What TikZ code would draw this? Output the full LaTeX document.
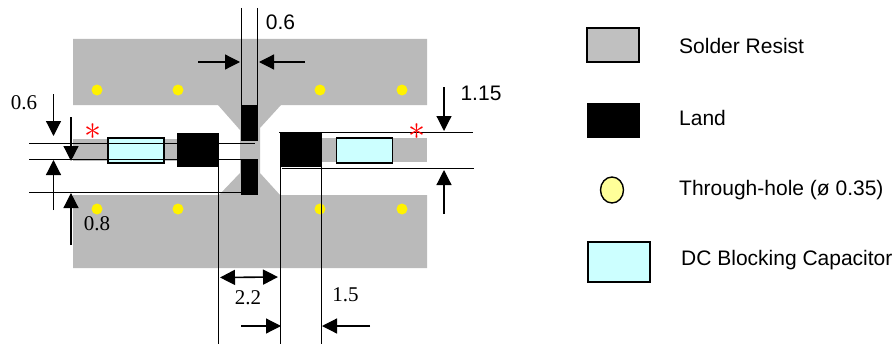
\documentclass[tikz,border=0pt]{standalone}
\usepackage{fontspec}
\setmainfont{Liberation Sans}
\newfontfamily\serifnum{Liberation Serif}
\usetikzlibrary{arrows.meta, positioning, shapes.geometric}
\definecolor{resistGray}{RGB}{186,186,186}
\definecolor{legendGray}{RGB}{192,192,192}
\definecolor{capCyan}{RGB}{204,255,255}
\definecolor{holeYellow}{RGB}{255,255,153}
\tikzstyle{land} = [rectangle, fill=black, inner sep=0, minimum width=42pt, minimum height=34pt]
\tikzstyle{padLand} = [rectangle, fill=black, inner sep=0, minimum width=17pt, minimum height=36pt]
\tikzstyle{capacitor} = [draw, rectangle, fill=capCyan, line width=1.6pt, inner sep=0, minimum width=56pt, minimum height=25pt]
\tikzstyle{hole} = [circle, fill=yellow, inner sep=0, minimum size=11pt]
\tikzstyle{dimLine} = [line width=1.8pt]
\tikzstyle{dimArrow} = [line width=1.2pt, -{Triangle[length=15pt, width=15pt]}]
\tikzstyle{sansLabel} = [inner sep=0, font=\fontsize{21pt}{24pt}\selectfont]
\tikzstyle{serifLabel} = [inner sep=0, font=\serifnum\fontsize{21pt}{24pt}\selectfont]
\tikzstyle{legendText} = [sansLabel, anchor=west]
\tikzstyle{marker} = [text=red, inner sep=0, scale=3.4]

\begin{document}
\begin{tikzpicture}[x=1pt, y=-1pt]
  \useasboundingbox (0,0) rectangle (896,345);

  % solder resist
  \fill[resistGray] (73,39) -- (427,39) -- (427,105) -- (281,105) -- (260,128) -- (260,173)
    -- (280,195) -- (427,195) -- (427,268) -- (73,268) -- (73,195) -- (219,195) -- (240,173)
    -- (240,130) -- (218,105) -- (73,105) -- cycle;
  \fill[resistGray] (73,139) rectangle (200,161);
  \fill[resistGray] (300,138) rectangle (427,162);

  % through-holes
  \foreach \name/\xpos in {a/97, b/178, c/320, d/402} {
    \node[hole] (hole_top_\name) at (\xpos,90) {};
    \node[hole] (hole_bot_\name) at (\xpos,209) {};
  }

  % lands and capacitors
  \node[land] (land_left) at (198,150) {};
  \node[land] (land_right) at (301,150) {};
  \node[padLand] (pad_top) at (249.5,123) {};
  \node[padLand] (pad_bot) at (249.5,177) {};
  \node[capacitor] (cap_left) at (136,150.5) {};
  \node[capacitor] (cap_right) at (364.5,150.5) {};

  % invisible ends of the dimension lines
  \coordinate (a1) at (29,143.5);
  \coordinate (a2) at (255,143.5);
  \coordinate (b1) at (29,159.5);
  \coordinate (b2) at (241,159.5);
  \coordinate (c1) at (29,192.5);
  \coordinate (c2) at (241,192.5);
  \coordinate (d1) at (279,132.5);
  \coordinate (d2) at (473,132.5);
  \coordinate (e1) at (282,168.5);
  \coordinate (e2) at (474,168.5);
  \coordinate (f1) at (241.5,8);
  \coordinate (f2) at (241.5,105);
  \coordinate (g1) at (257.5,8);
  \coordinate (g2) at (257.5,105);
  \coordinate (h1) at (218.5,167);
  \coordinate (h2) at (218.5,344);
  \coordinate (k1) at (280.5,133);
  \coordinate (k2) at (280.5,344);
  \coordinate (l1) at (321.5,167);
  \coordinate (l2) at (321.5,344);

  \foreach \from/\to in {a1/a2, b1/b2, c1/c2, d1/d2, e1/e2, f1/f2, g1/g2, h1/h2, k1/k2, l1/l2}
    \draw[dimLine] (\from) -- (\to);

  % arrow tails and tips
  \foreach \name/\xa/\ya/\xb/\yb in {
    top_l/198/62/240/62, top_r/305/62/259/62,
    rgt_u/444/87/444/131, rgt_d/444/214/444/170,
    lft_a/53.5/94/53.5/136, lft_b/71/117/71/161,
    lft_c/53.5/210/53.5/160, lft_d/71/245/71/193,
    bot_l/241/326/281/326, bot_r/370/326/322/326} {
    \coordinate (\name_s) at (\xa,\ya);
    \coordinate (\name_e) at (\xb,\yb);
    \draw[dimArrow] (\name_s) -- (\name_e);
  }
  \coordinate (w_l) at (220,277.5);
  \coordinate (w_r) at (278,277);
  \draw[line width=1.6pt, {Triangle[length=15pt, width=15pt]}-{Triangle[length=15pt, width=15pt]}] (w_l) -- (w_r);

  % dimensions
  \node[sansLabel] (dim_top) at (280.5,22) {0.6};
  \node[sansLabel] (dim_right) at (481,93) {1.15};
  \node[serifLabel] (dim_left_a) at (24,103) {0.6};
  \node[serifLabel] (dim_left_b) at (97,224) {0.8};
  \node[serifLabel] (dim_gap) at (248,298) {2.2};
  \node[serifLabel] (dim_land) at (345.5,295) {1.5};

  % markers
  \node[marker] (star_left) at (93,131.5) {$\ast$};
  \node[marker] (star_right) at (417,131.5) {$\ast$};

  % legend
  \node[draw, rectangle, fill=legendGray, line width=1.6pt, inner sep=0, minimum width=52pt, minimum height=34pt] (key_resist) at (613,45) {};
  \node[rectangle, fill=black, inner sep=0, minimum width=53pt, minimum height=35pt, below=40pt of key_resist] (key_land) {};
  \node[draw, ellipse, fill=holeYellow, line width=1.4pt, inner sep=0, minimum width=23pt, minimum height=26pt] (key_hole) at (612,190) {};
  \node[draw, rectangle, fill=capCyan, line width=2pt, inner sep=0, minimum width=62pt, minimum height=40pt] (key_cap) at (618.5,261.5) {};

  \node[legendText] (txt_resist) at (679,46) {Solder Resist};
  \node[legendText] (txt_land) at (679,118) {Land};
  \node[legendText] (txt_hole) at (679,190) {Through-hole (ø 0.35)};
  \node[legendText] (txt_cap) at (681,260) {DC Blocking Capacitor};
\end{tikzpicture}
\end{document}
